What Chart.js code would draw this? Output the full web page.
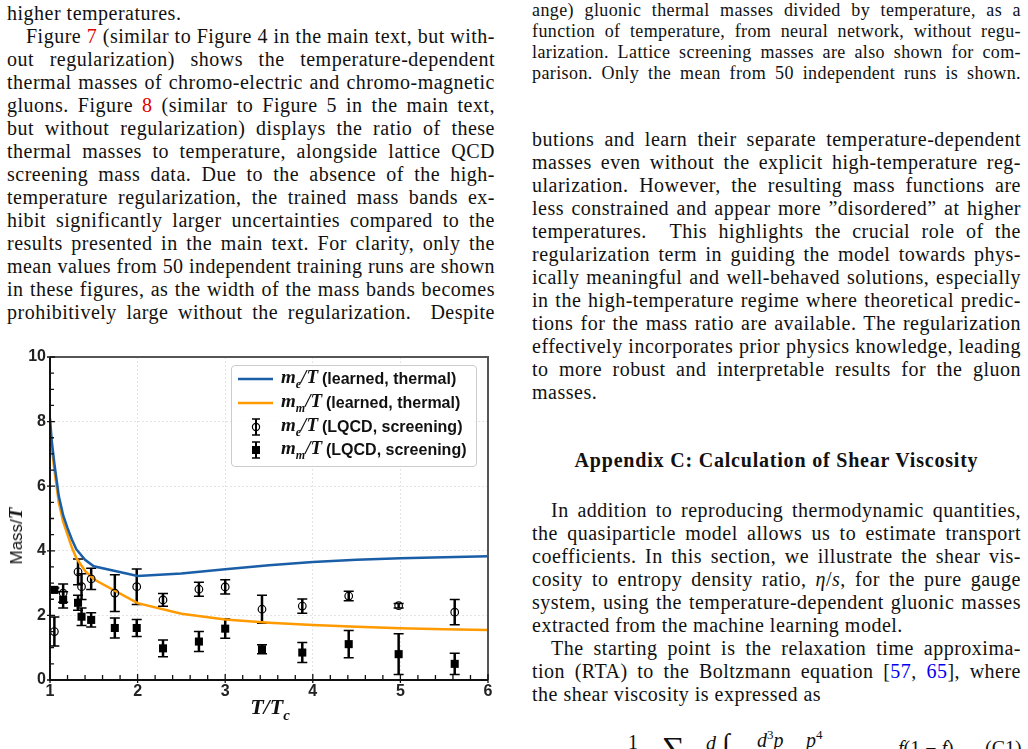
<!DOCTYPE html>
<html>
<head>
<meta charset="utf-8">
<script src="https://cdn.jsdelivr.net/npm/chart.js@4.4.0/dist/chart.umd.min.js"></script>
<style>
  body { margin: 0; width: 1028px; height: 749px; overflow: hidden; background: #fff; position: relative; color: #111; }
  .col { position: absolute; font-family: "Liberation Serif", serif; }
  .col div { white-space: nowrap; text-align: justify; text-align-last: justify; }
  .col div.end { text-align-last: left; }
  .col div.ind { padding-left: 19px; }
  .body { font-size: 20px; line-height: 23px; letter-spacing: 0.5px; }
  .cap { font-size: 18px; line-height: 21px; letter-spacing: 0.4px; }
  .red { color: #e00000; }
  .blue { color: #0000ee; }
  .hd { position: absolute; left: 532px; width: 489px; top: 449px; text-align: center; font: bold 20px "Liberation Serif", serif; letter-spacing: 0.8px; }
  #plot { position: absolute; left: 0; top: 340px; width: 505px; height: 390px; }
  .mth { font-family: "Liberation Serif", serif; font-weight: bold; font-style: italic; }
  #ylab { position: absolute; left: 16px; top: 536px; transform: translate(-50%, -50%) rotate(-90deg); white-space: nowrap; font: 17px "Liberation Sans", sans-serif; }
  #xlab { position: absolute; left: 270px; top: 709px; transform: translate(-50%, -50%); white-space: nowrap; font-size: 22px; }
  #legend { position: absolute; left: 231px; top: 365px; width: 244px; height: 100px; border: 1px solid #ccc; border-radius: 4px; background: rgba(255,255,255,0.85); }
  #legend .row { position: absolute; left: 0; height: 22px; display: flex; align-items: center; white-space: nowrap; }
  #legend svg { width: 40px; height: 22px; margin-left: 4px; }
  #legend .lt { margin-left: 5px; font-size: 19px; }
  #legend .st { font: bold 16px "Liberation Sans", sans-serif; margin-left: 4px; }
  .eq { position: absolute; font-family: "Liberation Serif", serif; font-size: 20px; }
</style>
</head>
<body>

<div class="col body" style="left:7px; top:2px; width:488px;">
  <div class="end">higher temperatures.</div>
  <div class="ind">Figure <span class="red">7</span> (similar to Figure 4 in the main text, but with-</div>
  <div>out regularization) shows the temperature-dependent</div>
  <div>thermal masses of chromo-electric and chromo-magnetic</div>
  <div>gluons. Figure <span class="red">8</span> (similar to Figure 5 in the main text,</div>
  <div>but without regularization) displays the ratio of these</div>
  <div>thermal masses to temperature, alongside lattice QCD</div>
  <div>screening mass data. Due to the absence of the high-</div>
  <div>temperature regularization, the trained mass bands ex-</div>
  <div>hibit significantly larger uncertainties compared to the</div>
  <div>results presented in the main text. For clarity, only the</div>
  <div>mean values from 50 independent training runs are shown</div>
  <div>in these figures, as the width of the mass bands becomes</div>
  <div>prohibitively large without the regularization. &nbsp;Despite</div>
</div>

<div class="col cap" style="left:532px; top:0px; width:489px;">
  <div>ange) gluonic thermal masses divided by temperature, as a</div>
  <div>function of temperature, from neural network, without regu-</div>
  <div>larization. Lattice screening masses are also shown for com-</div>
  <div>parison. Only the mean from 50 independent runs is shown.</div>
</div>

<div class="col body" style="left:532px; top:128px; width:489px;">
  <div>butions and learn their separate temperature-dependent</div>
  <div>masses even without the explicit high-temperature reg-</div>
  <div>ularization. However, the resulting mass functions are</div>
  <div>less constrained and appear more ”disordered” at higher</div>
  <div>temperatures. &nbsp;This highlights the crucial role of the</div>
  <div>regularization term in guiding the model towards phys-</div>
  <div>ically meaningful and well-behaved solutions, especially</div>
  <div>in the high-temperature regime where theoretical predic-</div>
  <div>tions for the mass ratio are available. The regularization</div>
  <div>effectively incorporates prior physics knowledge, leading</div>
  <div>to more robust and interpretable results for the gluon</div>
  <div class="end">masses.</div>
</div>

<div class="hd">Appendix C: Calculation of Shear Viscosity</div>

<div class="col body" style="left:532px; top:499px; width:489px;">
  <div class="ind">In addition to reproducing thermodynamic quantities,</div>
  <div>the quasiparticle model allows us to estimate transport</div>
  <div>coefficients. In this section, we illustrate the shear vis-</div>
  <div>cosity to entropy density ratio, <i>η</i>/<i>s</i>, for the pure gauge</div>
  <div>system, using the temperature-dependent gluonic masses</div>
  <div class="end">extracted from the machine learning model.</div>
  <div class="ind">The starting point is the relaxation time approxima-</div>
  <div>tion (RTA) to the Boltzmann equation [<span class="blue">57</span>, <span class="blue">65</span>], where</div>
  <div class="end">the shear viscosity is expressed as</div>
</div>

<div class="eq" style="left:628px; top:731px;">1</div>
<div class="eq" style="left:662px; top:730px; font-size:32px;">∑</div>
<div class="eq" style="left:706px; top:732px;"><i>d</i></div>
<div class="eq" style="left:722px; top:728px; font-size:28px;">∫</div>
<div class="eq" style="left:757px; top:727px;"><i>d</i><sup style="font-size:13px">3</sup><i>p</i></div>
<div class="eq" style="left:806px; top:727px;"><i>p</i><sup style="font-size:13px">4</sup></div>
<div class="eq" style="left:898px; top:737px;"><i>f</i>(1 − <i>f</i>)</div>
<div class="eq" style="left:985px; top:737px;">(C1)</div>

<div id="plot"><canvas id="massChart"></canvas></div>

<div id="ylab">Mass/<span class="mth" style="font-size:19px">T</span></div>
<div id="xlab" class="mth">T/T<sub style="font-size:15px">c</sub></div>

<div id="legend">
  <div class="row" style="top:2px;">
    <svg viewBox="0 0 40 22"><line x1="2" y1="11" x2="37" y2="11" stroke="#1a5ea8" stroke-width="2.5"/></svg>
    <span class="lt mth"><span>m</span><sub style="font-size:12px">e</sub>/T</span><span class="st">(learned, thermal)</span>
  </div>
  <div class="row" style="top:26px;">
    <svg viewBox="0 0 40 22"><line x1="2" y1="11" x2="37" y2="11" stroke="#ff9a00" stroke-width="2.5"/></svg>
    <span class="lt mth"><span>m</span><sub style="font-size:12px">m</sub>/T</span><span class="st">(learned, thermal)</span>
  </div>
  <div class="row" style="top:50px;">
    <svg viewBox="0 0 40 22"><line x1="20" y1="3" x2="20" y2="19" stroke="#000" stroke-width="2"/><line x1="16" y1="3" x2="24" y2="3" stroke="#000" stroke-width="1.5"/><line x1="16" y1="19" x2="24" y2="19" stroke="#000" stroke-width="1.5"/><circle cx="20" cy="11" r="3.6" fill="none" stroke="#000" stroke-width="1.2"/></svg>
    <span class="lt mth"><span>m</span><sub style="font-size:12px">e</sub>/T</span><span class="st">(LQCD, screening)</span>
  </div>
  <div class="row" style="top:73px;">
    <svg viewBox="0 0 40 22"><line x1="20" y1="3" x2="20" y2="19" stroke="#000" stroke-width="2"/><line x1="16" y1="3" x2="24" y2="3" stroke="#000" stroke-width="1.5"/><line x1="16" y1="19" x2="24" y2="19" stroke="#000" stroke-width="1.5"/><rect x="16" y="7" width="8" height="8" fill="#000"/></svg>
    <span class="lt mth"><span>m</span><sub style="font-size:12px">m</sub>/T</span><span class="st">(LQCD, screening)</span>
  </div>
</div>

<script>
// learned thermal masses (mean of 50 runs)
const curveT = [1.0, 1.02, 1.05, 1.1, 1.15, 1.2, 1.25, 1.3, 1.4, 1.5, 2.0, 2.5, 3.0, 3.5, 4.0, 4.5, 5.0, 5.5, 6.0];
const meLearned = [8.1, 7.4, 6.7, 5.7, 5.1, 4.7, 4.35, 4.05, 3.72, 3.52, 3.22, 3.3, 3.43, 3.55, 3.65, 3.72, 3.77, 3.8, 3.83];
const mmLearned = [7.9, 7.2, 6.5, 5.5, 4.9, 4.5, 4.1, 3.78, 3.38, 3.12, 2.38, 2.05, 1.87, 1.77, 1.70, 1.65, 1.60, 1.57, 1.55];

// lattice screening masses
const lqcdT = [1.05, 1.15, 1.32, 1.36, 1.47, 1.74, 1.99, 2.29, 2.70, 3.00, 3.42, 3.88, 4.41, 4.98, 5.62];
const meLqcd = [1.50, 2.69, 3.35, 2.89, 3.13, 2.69, 2.89, 2.48, 2.81, 2.88, 2.19, 2.29, 2.60, 2.30, 2.10];
const meErr = [0.45, 0.28, 0.40, 0.40, 0.33, 0.57, 0.55, 0.20, 0.22, 0.22, 0.43, 0.22, 0.15, 0.07, 0.39];
const mmLqcd = [2.79, 2.48, 2.39, 1.96, 1.86, 1.61, 1.61, 0.98, 1.19, 1.59, 0.95, 0.85, 1.11, 0.80, 0.50];
const mmErr = [0.06, 0.25, 0.23, 0.27, 0.22, 0.31, 0.26, 0.26, 0.31, 0.30, 0.14, 0.31, 0.42, 0.63, 0.33];

// squeeze any justified line that would not fit its column
document.querySelectorAll('.col div').forEach(d => {
    let ls = parseFloat(getComputedStyle(d).letterSpacing) || 0;
    while (d.scrollWidth > d.clientWidth && ls > -1) {
        ls -= 0.1;
        d.style.letterSpacing = ls + 'px';
    }
});

const toPts = (xs, ys) => xs.map((v, i) => ({x: v, y: ys[i]}));

// error bars under the markers
const errorBars = {
    id: 'errorBars',
    beforeDatasetsDraw(chart) {
        const {ctx, scales: {x, y}} = chart;
        ctx.save();
        ctx.strokeStyle = '#000';
        [[meLqcd, meErr], [mmLqcd, mmErr]].forEach(([vals, errs]) => {
            lqcdT.forEach((t, i) => {
                const px = x.getPixelForValue(t);
                const top = y.getPixelForValue(vals[i] + errs[i]);
                const bot = y.getPixelForValue(vals[i] - errs[i]);
                ctx.lineWidth = 2.5;
                ctx.beginPath();
                ctx.moveTo(px, top);
                ctx.lineTo(px, bot);
                ctx.stroke();
                ctx.lineWidth = 1.5;
                ctx.beginPath();
                ctx.moveTo(px - 5, top); ctx.lineTo(px + 5, top);
                ctx.moveTo(px - 5, bot); ctx.lineTo(px + 5, bot);
                ctx.stroke();
            });
        });
        ctx.restore();
    }
};

// frame and inward ticks
const frame = {
    id: 'frame',
    afterDraw(chart) {
        const {ctx, chartArea: a, scales: {x, y}} = chart;
        ctx.save();
        ctx.strokeStyle = '#555';
        ctx.lineWidth = 2;
        ctx.beginPath();
        ctx.moveTo(a.left, a.top); ctx.lineTo(a.right, a.top); ctx.lineTo(a.right, a.bottom);
        ctx.stroke();
        ctx.strokeStyle = '#111';
        ctx.beginPath();
        ctx.moveTo(a.left, a.top); ctx.lineTo(a.left, a.bottom); ctx.lineTo(a.right, a.bottom);
        ctx.stroke();
        ctx.lineWidth = 1.3;
        ctx.beginPath();
        for (let v = 0; v <= 10.001; v += 0.5) {
            const py = y.getPixelForValue(v);
            const major = Math.abs(v / 2 - Math.round(v / 2)) < 1e-6;
            ctx.moveTo(a.left - (major ? 3 : 0), py);
            ctx.lineTo(a.left + (major ? 5 : 4), py);
        }
        for (let v = 1; v <= 6.001; v += 0.2) {
            const px = x.getPixelForValue(v);
            const major = Math.abs(v - Math.round(v)) < 1e-6;
            ctx.moveTo(px, a.bottom + (major ? 3 : 0));
            ctx.lineTo(px, a.bottom - (major ? 6 : 5));
        }
        ctx.stroke();
        ctx.restore();
    }
};

const tickFont = {family: "'Liberation Sans', Arial, sans-serif", size: 16, weight: 'bold'};

new Chart(document.getElementById('massChart'), {
    type: 'scatter',
    data: {
        datasets: [
            {
                label: 'm_e/T (LQCD, screening)',
                data: toPts(lqcdT, meLqcd),
                pointStyle: 'circle',
                pointRadius: 3.8,
                borderColor: '#000',
                borderWidth: 1.2,
                backgroundColor: 'rgba(0,0,0,0)'
            },
            {
                label: 'm_m/T (LQCD, screening)',
                data: toPts(lqcdT, mmLqcd),
                pointStyle: 'rect',
                pointRadius: 5.7,
                borderColor: '#000',
                borderWidth: 0,
                backgroundColor: '#000'
            },
            {
                label: 'm_e/T (learned, thermal)',
                data: toPts(curveT, meLearned),
                showLine: true,
                pointRadius: 0,
                borderColor: '#1a5ea8',
                borderWidth: 2.5,
                tension: 0
            },
            {
                label: 'm_m/T (learned, thermal)',
                data: toPts(curveT, mmLearned),
                showLine: true,
                pointRadius: 0,
                borderColor: '#ff9a00',
                borderWidth: 2.5,
                tension: 0
            }
        ]
    },
    options: {
        responsive: true,
        maintainAspectRatio: false,
        animation: false,
        layout: {padding: {top: 17, right: 17, left: 0, bottom: 0}},
        scales: {
            x: {
                type: 'linear',
                min: 1,
                max: 6,
                afterFit: (scale) => { scale.height = 50; },
                ticks: {stepSize: 1, color: '#222', font: tickFont, padding: 2, maxRotation: 0},
                grid: {color: '#dddddd', lineWidth: 0.8, drawTicks: false},
                border: {display: false, dash: [2, 2]}
            },
            y: {
                min: 0,
                max: 10,
                afterFit: (scale) => { scale.width = 50; },
                ticks: {stepSize: 2, color: '#222', font: tickFont, padding: 4},
                grid: {color: '#dddddd', lineWidth: 0.8, drawTicks: false},
                border: {display: false, dash: [2, 2]}
            }
        },
        plugins: {
            legend: {display: false},
            tooltip: {enabled: false}
        }
    },
    plugins: [errorBars, frame]
});
</script>
</body>
</html>
